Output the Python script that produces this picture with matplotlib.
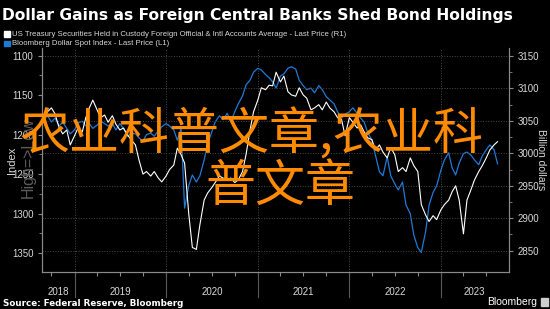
import numpy as np
import pandas as pd
import matplotlib
matplotlib.use('Agg')
import matplotlib.pyplot as plt
import matplotlib.dates as mdates
import matplotlib.transforms as mtransforms
from matplotlib.patches import Rectangle

# semi-monthly observations, Sep 2018 - Aug 2023
dates = pd.date_range('2018-09-01', periods=120, freq='SMS')

# Bloomberg Dollar Spot Index (left axis, inverted)
dollar_index = [
    1181, 1176, 1184, 1179, 1189, 1184, 1192, 1199, 1194, 1185,
    1183, 1189, 1186, 1192, 1188, 1183, 1186, 1189, 1186, 1194,
    1186, 1192, 1202, 1198, 1199, 1204, 1208, 1200, 1198, 1202,
    1195, 1190, 1186, 1189, 1194, 1207, 1192, 1293, 1264, 1251,
    1260, 1252, 1232, 1211, 1197, 1184, 1176, 1181, 1173, 1184,
    1171, 1161, 1151, 1137, 1131, 1121, 1116, 1118, 1124, 1128,
    1133, 1141, 1126, 1123, 1116, 1114, 1117, 1131, 1138, 1143,
    1141, 1147, 1138, 1143, 1152, 1156, 1161, 1171, 1179, 1174,
    1171, 1166, 1173, 1179, 1184, 1197, 1207, 1226, 1247, 1252,
    1228, 1252, 1262, 1270, 1260, 1289, 1300, 1327, 1343, 1349,
    1323, 1289, 1273, 1265, 1245, 1232, 1223, 1242, 1251, 1236,
    1224, 1222, 1226, 1232, 1238, 1227, 1219, 1213, 1219, 1237,
]

# US Treasuries held in custody for foreign official accounts (right axis)
treasury_holdings = [
    3055, 3064, 3070, 3061, 3039, 3030, 3036, 3013, 3027, 3039,
    3033, 3055, 3070, 3082, 3067, 3055, 3059, 3048, 3058, 3045,
    3036, 3039, 3028, 3021, 3013, 2990, 2968, 2972, 2965, 2972,
    2962, 2956, 2965, 2975, 2982, 3008, 2998, 2985, 2905, 2855,
    2852, 2890, 2928, 2939, 2947, 2955, 2965, 2962, 2959, 2962,
    2955, 2959, 2972, 2998, 3036, 3064, 3082, 3101, 3098, 3105,
    3104, 3125, 3110, 3119, 3095, 3090, 3088, 3101, 3090, 3085,
    3067, 3070, 3075, 3067, 3079, 3070, 3064, 3055, 3052, 3027,
    3055, 3048, 3039, 3044, 3033, 3024, 3021, 3005, 3013, 3002,
    2993, 3009, 2998, 2972, 2978, 2972, 2993, 2981, 2972, 2921,
    2905, 2895, 2904, 2898, 2913, 2921, 2928, 2941, 2950, 2928,
    2876, 2928, 2944, 2959, 2972, 2981, 2993, 3005, 3013, 3018,
]

years = [2018, 2019, 2020, 2021, 2022, 2023]
left_ticks = [1100, 1150, 1200, 1250, 1300, 1350]
right_ticks = [2850, 2900, 2950, 3000, 3050, 3100, 3150]

x_start = pd.Timestamp('2018-08-26')
x_end = pd.Timestamp('2023-09-28')

fg = '#d8d8d8'
axis_grey = '#8a8a8a'

fig = plt.figure(figsize=(5.5, 3.09), dpi=100, facecolor='black')
ax = fig.add_axes([0.0771, 0.1197, 0.8476, 0.725])
ax.set_facecolor('black')
ax2 = ax.twinx()

# year grid lines and separators below the axis
for yr in years[1:]:
    d = pd.Timestamp(f'{yr}-01-01')
    ax.axvline(d, color='#4a4a4a', ls=':', lw=0.7, zorder=0)
    ax.axvline(d, ymin=-0.112, ymax=0, color='#5a5a5a', lw=0.8, clip_on=False)

trans = mtransforms.blended_transform_factory(ax.transData, ax.transAxes)
for yr in years:
    a = max(pd.Timestamp(f'{yr}-01-01'), x_start)
    b = min(pd.Timestamp(f'{yr + 1}-01-01'), x_end)
    mid = a + (b - a) / 2
    ax.text(mid, -0.09, str(yr), transform=trans, ha='center', va='center',
            color=fg, fontsize=7, family='Liberation Sans')

ax.plot(dates, dollar_index, color='#1f7ad6', lw=0.9)
ax2.plot(dates, treasury_holdings, color='white', lw=0.8)

ax.set_xlim(x_start, x_end)
ax.set_ylim(1373.8, 1090.3)
ax2.set_ylim(2817.2, 3162.3)

ax.set_yticks(left_ticks)
ax.set_yticks(np.arange(1100, 1375, 25), minor=True)
ax2.set_yticks(right_ticks)
ax2.set_yticks(np.arange(2850, 3175, 25), minor=True)
ax2.yaxis.grid(True, ls=':', color='#4a4a4a', lw=0.7)
ax2.set_axisbelow(True)

ax.xaxis.set_major_locator(mdates.MonthLocator(bymonth=[1, 4, 7, 10]))
ax.xaxis.set_major_formatter(plt.NullFormatter())

for a in (ax, ax2):
    a.tick_params(axis='both', which='major', colors=axis_grey, labelcolor=fg,
                  labelsize=7, length=3, width=0.8)
    a.tick_params(axis='y', which='minor', colors=axis_grey, length=2, width=0.6)
    for s in a.spines.values():
        s.set_color(axis_grey)
        s.set_linewidth(0.8)
    a.spines['top'].set_visible(False)
    for lab in a.get_yticklabels():
        lab.set_family('Liberation Sans')

# axis titles
fig.text(12 / 550, 1 - 160 / 309, 'Index', rotation=90, color=fg, fontsize=8,
         ha='center', va='center', family='Liberation Sans')
fig.text(28 / 550, 1 - 158 / 309, 'High=>Low', rotation=90, color='#5c5c5c',
         fontsize=11.5, ha='center', va='center', family='Liberation Sans')
fig.text(541 / 550, 1 - 160 / 309, 'Billion dollars', rotation=270, color=fg,
         fontsize=7.5, ha='center', va='center', family='Liberation Sans')

# title and legend
fig.text(0.004, 0.975, 'Dollar Gains as Foreign Central Banks Shed Bond Holdings',
         color='white', fontsize=11.2, fontweight='bold', ha='left', va='top')
fig.add_artist(Rectangle((0.008, 1 - 36.5 / 309), 5.3 / 550, 5 / 309,
                         transform=fig.transFigure, color='white'))
fig.add_artist(Rectangle((0.008, 1 - 46 / 309), 5.3 / 550, 5 / 309,
                         transform=fig.transFigure, color='#1f7ad6'))
fig.text(0.021, 1 - 34 / 309,
         'US Treasury Securities Held in Custody Foreign Official & Intl Accounts Average - Last Price (R1)',
         color=fg, fontsize=5.6, ha='left', va='center', family='Liberation Sans')
fig.text(0.021, 1 - 43.5 / 309, 'Bloomberg Dollar Spot Index - Last Price (L1)',
         color=fg, fontsize=5.6, ha='left', va='center', family='Liberation Sans')

# footer
fig.text(0.005, 1 - 303 / 309, 'Source: Federal Reserve, Bloomberg', color='white',
         fontsize=6.3, fontweight='bold', ha='left', va='center')
fig.text(0.977, 1 - 302 / 309, 'Bloomberg', color='white', fontsize=7.5,
         ha='right', va='center', family='Liberation Sans')
fig.add_artist(Rectangle((0.983, 1 - 306 / 309), 7 / 550, 8 / 309,
                         transform=fig.transFigure, color='#cfcfcf'))

# watermark
fig.text(0.036, 1 - 135 / 309, '农业科普文章,农业科', color='#ff8c00', fontsize=36,
         ha='left', va='center', family=['Noto Sans CJK SC', 'DejaVu Sans'])
fig.text(0.509, 1 - 187 / 309, '普文章', color='#ff8c00', fontsize=36,
         ha='center', va='center', family=['Noto Sans CJK SC', 'DejaVu Sans'])

fig.savefig('out.png', dpi=100, facecolor='black')
